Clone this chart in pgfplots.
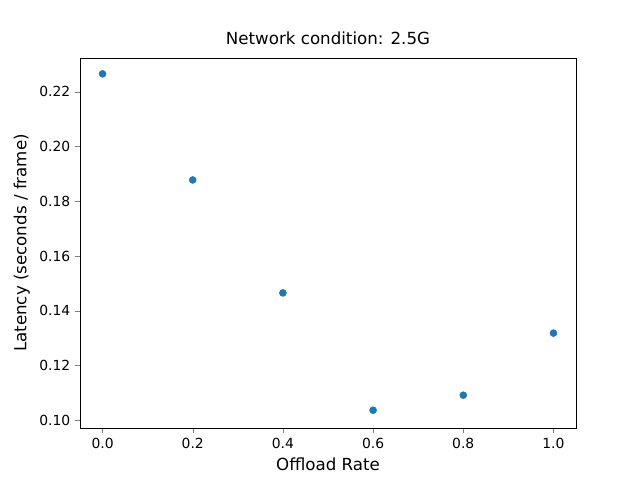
\documentclass[border=0pt]{standalone}
\usepackage{pgfplots}
\pgfplotsset{compat=1.18}
\usepackage{fontspec}
\setmainfont{DejaVu Sans}
\definecolor{mplblue}{HTML}{1F77B4}
\begin{document}
\begin{tikzpicture}
\path[use as bounding box] (-57.6pt,-37.44pt) rectangle (403.2pt,308.16pt);
\begin{axis}[
  at={(0pt,0pt)}, anchor=south west,
  scale only axis, width=357.12pt, height=266.4pt,
  xmin=-0.05, xmax=1.05, ymin=0.0971, ymax=0.2324,
  xtick={0,0.2,0.4,0.6,0.8,1.0},
  xticklabels={0.0,0.2,0.4,0.6,0.8,1.0},
  ytick={0.10,0.12,0.14,0.16,0.18,0.20,0.22},
  yticklabels={0.10,0.12,0.14,0.16,0.18,0.20,0.22},
  tick align=outside, tick pos=left,
  major tick length=3.5pt,
  ticklabel style={font=\fontsize{10}{12}\selectfont},
  label style={font=\fontsize{12}{14}\selectfont},
  title style={font=\fontsize{12}{14}\selectfont},
  title={Network condition: 2.5G},
  xlabel={Offload Rate},
  ylabel={Latency (seconds / frame)},
  axis line style={line width=0.6pt},
]
\addplot[only marks, mark=*, mark size=2.5pt, color=mplblue] coordinates {
(0.0,0.2266) (0.2,0.1878) (0.4,0.1465) (0.6,0.1036) (0.8,0.1091) (1.0,0.1318)
};
\end{axis}
\end{tikzpicture}
\end{document}
